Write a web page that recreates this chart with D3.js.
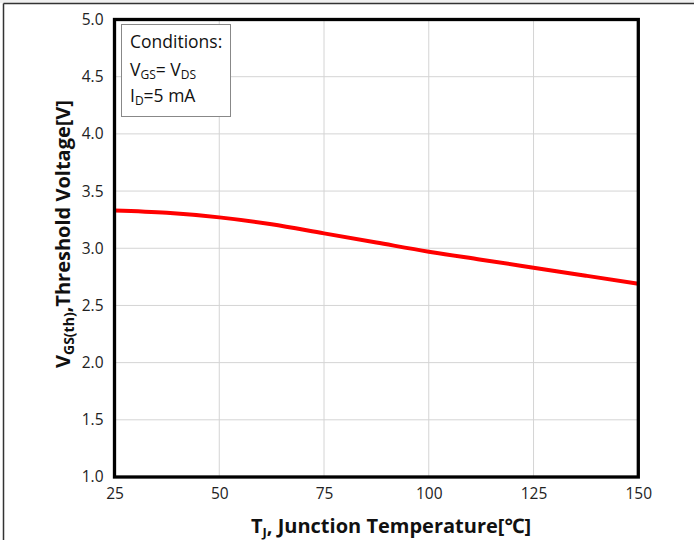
<!DOCTYPE html>
<html>
<head>
<meta charset="utf-8">
<script src="https://cdn.jsdelivr.net/npm/d3@7"></script>
<style>
  html, body { margin: 0; padding: 0; background: #fff; }
  svg { display: block; font-family: "Open Sans", "Noto Sans", sans-serif; }
</style>
</head>
<body>
<div id="chart"></div>
<script>
// Threshold voltage vs junction temperature
const tempC = [25, 37.5, 50, 62.5, 75, 87.5, 100, 112.5, 125, 137.5, 150];
const vth = [3.33, 3.31, 3.27, 3.21, 3.13, 3.05, 2.97, 2.90, 2.83, 2.76, 2.69];
const xTicks = [25, 50, 75, 100, 125, 150];
const yTicks = [1.0, 1.5, 2.0, 2.5, 3.0, 3.5, 4.0, 4.5, 5.0];
const conditions = ["Conditions:", "VGS= VDS", "ID=5 mA"];

const width = 694, height = 540;
const plot = { left: 114.5, right: 638.3, top: 19.5, bottom: 477 };

const svg = d3.select("#chart").append("svg")
    .attr("width", width).attr("height", height);

// outer frame remnants
svg.append("rect").attr("x", 0).attr("y", 0).attr("width", width).attr("height", 3).attr("fill", "#f0f0f0");
svg.append("line").attr("x1", 3.5).attr("x2", width).attr("y1", 3.5).attr("y2", 3.5).attr("stroke", "#333").attr("stroke-width", 1.5);
svg.append("line").attr("x1", 3.5).attr("x2", 3.5).attr("y1", 3.5).attr("y2", height).attr("stroke", "#333").attr("stroke-width", 1.5);

const x = d3.scaleLinear().domain([25, 150]).range([plot.left, plot.right]);
const y = d3.scaleLinear().domain([1, 5]).range([plot.bottom, plot.top]);

// grid
svg.append("g").selectAll("line").data(xTicks.slice(1, -1)).enter().append("line")
    .attr("x1", d => x(d)).attr("x2", d => x(d))
    .attr("y1", plot.top).attr("y2", plot.bottom)
    .attr("stroke", "#d4d4d4").attr("stroke-width", 1);
svg.append("g").selectAll("line").data(yTicks.slice(1, -1)).enter().append("line")
    .attr("x1", plot.left).attr("x2", plot.right)
    .attr("y1", d => y(d)).attr("y2", d => y(d))
    .attr("stroke", "#d4d4d4").attr("stroke-width", 1);

// axes labels via d3 axes (no domain/ticks)
const xAxis = svg.append("g").attr("transform", `translate(0,${plot.bottom})`)
    .call(d3.axisBottom(x).tickValues(xTicks).tickSize(0).tickPadding(11).tickFormat(d3.format("d")));
const yAxis = svg.append("g").attr("transform", `translate(${plot.left},0)`)
    .call(d3.axisLeft(y).tickValues(yTicks).tickSize(0).tickPadding(11).tickFormat(d3.format(".1f")));
[xAxis, yAxis].forEach(a => {
    a.select(".domain").remove();
    a.selectAll("text").attr("font-size", "15.5px").attr("fill", "#222")
        .attr("font-family", "'Open Sans', 'Noto Sans', sans-serif");
});

// curve
const line = d3.line().x((d, i) => x(tempC[i])).y(d => y(d)).curve(d3.curveMonotoneX);
svg.append("path").datum(vth).attr("d", line)
    .attr("fill", "none").attr("stroke", "#ff0000").attr("stroke-width", 4);

// plot border
svg.append("rect").attr("x", plot.left).attr("y", plot.top)
    .attr("width", plot.right - plot.left).attr("height", plot.bottom - plot.top)
    .attr("fill", "none").attr("stroke", "#000").attr("stroke-width", 3.3);

// conditions box
const box = svg.append("g");
box.append("rect").attr("x", 121.5).attr("y", 24.5).attr("width", 109).attr("height", 92)
    .attr("fill", "#fff").attr("stroke", "#888").attr("stroke-width", 1);
const fs = 17.5, sub = 12;
box.append("text").attr("x", 130).attr("y", 48).attr("font-size", fs).attr("fill", "#111").text(conditions[0]);
const l2 = box.append("text").attr("x", 130).attr("y", 76).attr("font-size", fs).attr("fill", "#111");
l2.append("tspan").text("V");
l2.append("tspan").attr("font-size", sub).attr("dy", 3).text("GS");
l2.append("tspan").attr("dy", -3).text("= V");
l2.append("tspan").attr("font-size", sub).attr("dy", 3).text("DS");
const l3 = box.append("text").attr("x", 130).attr("y", 102).attr("font-size", fs).attr("fill", "#111");
l3.append("tspan").text("I");
l3.append("tspan").attr("font-size", sub).attr("dy", 3).text("D");
l3.append("tspan").attr("dy", -3).text("=5 mA");

// axis titles
const xt = svg.append("text").attr("x", 391).attr("y", 533).attr("text-anchor", "middle")
    .attr("font-size", 20).attr("font-weight", "bold").attr("fill", "#111");
xt.append("tspan").text("T");
xt.append("tspan").attr("font-size", 13).attr("dy", 4).text("J");
xt.append("tspan").attr("dy", -4).text(", Junction Temperature[℃]");

const yt = svg.append("text").attr("transform", "translate(70,234) rotate(-90)").attr("text-anchor", "middle")
    .attr("font-size", 20).attr("font-weight", "bold").attr("fill", "#111");
yt.append("tspan").text("V");
yt.append("tspan").attr("font-size", 14).attr("dy", 4).text("GS(th)");
yt.append("tspan").attr("dy", -4).text(",Threshold Voltage[V]");
</script>
</body>
</html>
